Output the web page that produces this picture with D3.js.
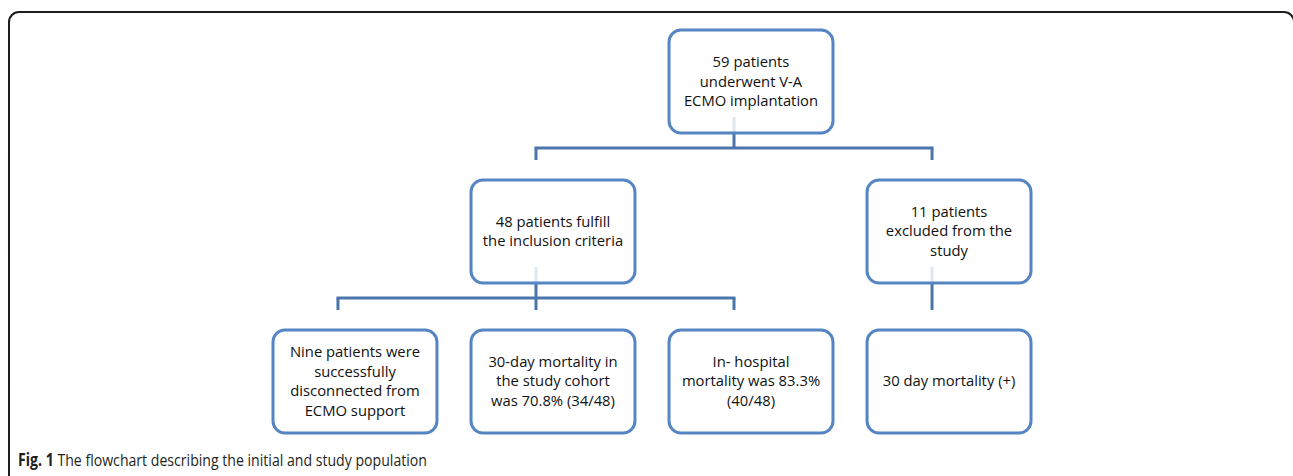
<!DOCTYPE html>
<html>
<head>
    <meta charset="utf-8">
    <style>
        body {
            margin: 0;
            background: #fff;
        }

        svg {
            display: block;
        }

        .box-text {
            font-family: 'Open Sans', sans-serif;
            font-size: 14.8px;
            fill: #111;
        }

        .caption {
            font-family: 'Open Sans', sans-serif;
            font-size: 17px;
            fill: #231f20;
        }
    </style>
</head>

<body>
    <svg width="1293" height="476"></svg>

    <script src="https://d3js.org/d3.v7.min.js"></script>
    <script>
        // flowchart content
        let boxLabels = [
            ["59 patients", "underwent V-A", "ECMO implantation"],
            ["48 patients fulfill", "the inclusion criteria"],
            ["11 patients", "excluded from the", "study"],
            ["Nine patients were", "successfully", "disconnected from", "ECMO support"],
            ["30-day mortality in", "the study cohort", "was 70.8% (34/48)"],
            ["In- hospital", "mortality was 83.3%", "(40/48)"],
            ["30 day mortality (+)"]
        ]
        let boxLevel = [0, 1, 1, 2, 2, 2, 2]
        let boxColumn = [2, 1, 3, 0, 1, 2, 3]

        // parent -> child links
        let links = [[0, 1], [0, 2], [1, 3], [1, 4], [1, 5], [2, 6]]

        let captionBold = "Fig. 1"
        let captionText = " The flowchart describing the initial and study population"

        let width = 1293
        let height = 476

        let svg = d3.select("svg")

        // outer frame (right and bottom edges run off the picture)
        svg.append("rect")
            .attr("x", 9)
            .attr("y", 12)
            .attr("width", 1285)
            .attr("height", 520)
            .attr("rx", 10)
            .style("fill", "none")
            .style("stroke", "#1d1d1d")
            .style("stroke-width", "2px")

        let x = d3.scaleBand()
            .domain([0, 1, 2, 3])
            .range([273, 1031])
            .paddingInner(0.172)

        let y = d3.scaleBand()
            .domain([0, 1, 2])
            .range([30, 433])
            .paddingInner(0.313)

        let nodes = boxLabels.map(function (lines, i) {
            return { i: i, lines: lines, level: boxLevel[i], col: boxColumn[i] }
        })

        let offset = 17   // connectors sit left of box centre
        let connX = d => x(d.col) + x.bandwidth() / 2 - offset

        // connectors
        let grouped = d3.group(links, d => d[0])
        let conn = svg.append("g")
        grouped.forEach(function (kids, p) {
            let parent = nodes[p]
            let barY = y(parent.level) + y.bandwidth() + 15
            let childXs = kids.map(k => connX(nodes[k[1]]))
            let px = connX(parent)

            // faint stub inside the parent box
            conn.append("line")
                .attr("x1", px).attr("x2", px)
                .attr("y1", y(parent.level) + y.bandwidth() - 16)
                .attr("y2", y(parent.level) + y.bandwidth())
                .style("stroke", "#dfe7f1")
                .style("stroke-width", "3px")

            conn.append("line")
                .attr("x1", px).attr("x2", px)
                .attr("y1", y(parent.level) + y.bandwidth())
                .attr("y2", barY)
                .style("stroke", "#4a76ab")
                .style("stroke-width", "3px")

            let xs = childXs.concat([px])
            if (kids.length > 1) {
                conn.append("line")
                    .attr("x1", d3.min(xs) - 1.5).attr("x2", d3.max(xs) + 1.5)
                    .attr("y1", barY).attr("y2", barY)
                    .style("stroke", "#4a76ab")
                    .style("stroke-width", "3px")
            }

            kids.forEach(function (k) {
                let c = nodes[k[1]]
                conn.append("line")
                    .attr("x1", connX(c)).attr("x2", connX(c))
                    .attr("y1", barY)
                    .attr("y2", y(c.level) - 20)
                    .style("stroke", "#4a76ab")
                    .style("stroke-width", "3px")
            })
        })

        // boxes
        let box = svg.append("g")
            .selectAll(".box")
            .data(nodes)
            .join("g")
            .attr("class", "box")
            .attr("transform", d => `translate(${x(d.col)},${y(d.level)})`)

        box.append("rect")
            .attr("width", x.bandwidth())
            .attr("height", y.bandwidth())
            .attr("rx", 12)
            .style("fill", "none")
            .style("stroke", "#5585c2")
            .style("stroke-width", "3px")

        let lineH = 19.5
        box.append("text")
            .attr("class", "box-text")
            .attr("text-anchor", "middle")
            .each(function (d) {
                let t = d3.select(this)
                let top = y.bandwidth() / 2 - (d.lines.length - 1) * lineH / 2 + 5
                d.lines.forEach(function (l, j) {
                    t.append("tspan")
                        .attr("x", x.bandwidth() / 2)
                        .attr("y", top + j * lineH)
                        .text(l)
                })
            })

        // caption, condensed to match the journal face
        let cap = svg.append("text")
            .attr("class", "caption")
            .attr("transform", "translate(18,466) scale(0.83,1)")
        cap.append("tspan").style("font-weight", "bold").text(captionBold)
        cap.append("tspan").text(captionText)
    </script>
</body>
</html>
